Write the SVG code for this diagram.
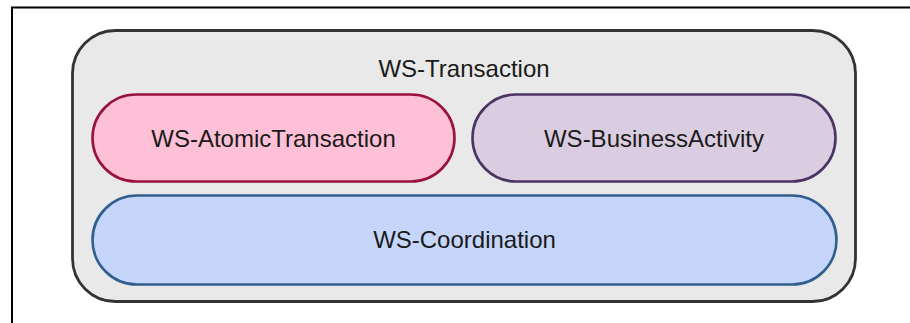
<svg xmlns="http://www.w3.org/2000/svg" width="910" height="323" viewBox="0 0 910 323">
<style>
text{font-family:"Liberation Sans",Arial,sans-serif;font-size:24px;fill:#1a1a1a;text-anchor:middle}
.frame{stroke:#000;stroke-width:2;fill:none}
</style>
<rect width="910" height="323" fill="#fff"/>
<path class="frame" d="M12,323 V7.5 H910"/>
<g id="ws-transaction">
<rect x="72.5" y="30.5" width="783" height="271" rx="43" ry="43" fill="#e9e9e9" stroke="#333" stroke-width="2.8"/>
<text x="464" y="77">WS-Transaction</text>
</g>
<g id="ws-atomic">
<rect x="92.5" y="94.5" width="362" height="87" rx="43.5" ry="43.5" fill="#fec0d6" stroke="#98123e" stroke-width="2.6"/>
<text x="273.5" y="146.5">WS-AtomicTransaction</text>
</g>
<g id="ws-business">
<rect x="472.5" y="94.5" width="363" height="87" rx="43.5" ry="43.5" fill="#dbcde1" stroke="#4b3364" stroke-width="2.6"/>
<text x="654" y="146.5">WS-BusinessActivity</text>
</g>
<g id="ws-coordination">
<rect x="92.5" y="195.5" width="744" height="89" rx="44.5" ry="44.5" fill="#c6d6fa" stroke="#2f5e8f" stroke-width="2.6"/>
<text x="464.5" y="248">WS-Coordination</text>
</g>
<g id="connectors"/>
</svg>
